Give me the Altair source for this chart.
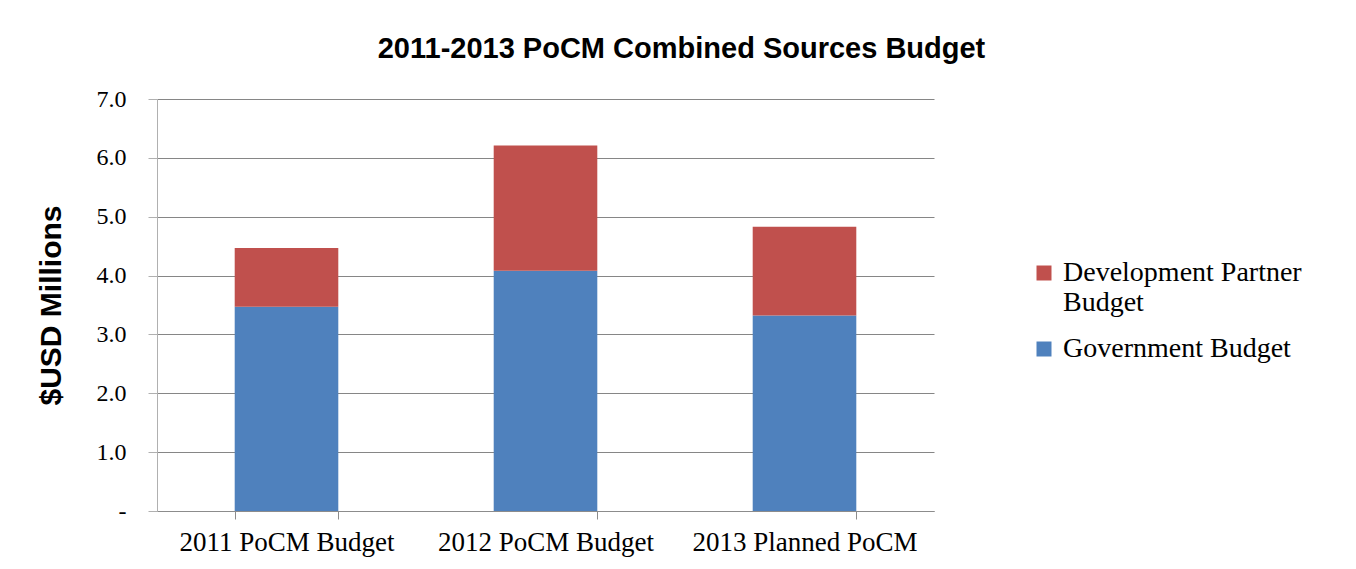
import altair as alt
import pandas as pd

categories = ["2011 PoCM Budget", "2012 PoCM Budget", "2013 Planned PoCM"]
government = [3.47, 4.08, 3.32]
development = [1.00, 2.13, 1.51]
series = ["Development Partner Budget", "Government Budget"]
colors = ["#C0504D", "#4F81BD"]
y_ticks = [0, 1, 2, 3, 4, 5, 6, 7]

rows = []
for c, g, d in zip(categories, government, development):
    rows.append({"category": c, "series": "Government Budget", "value": g, "ord": 0})
    rows.append({"category": c, "series": "Development Partner Budget", "value": d, "ord": 1})
df = pd.DataFrame(rows)

chart = alt.Chart(df).mark_bar().encode(
    x=alt.X("category:N", sort=categories, title=None,
            scale=alt.Scale(paddingInner=0.6, paddingOuter=0.3),
            axis=alt.Axis(labelAngle=0, labelFont="Liberation Serif", labelFontSize=27,
                          labelColor="black", labelLimit=300, tickBand="extent", tickSize=8,
                          tickColor="#8c8c8c", domainColor="#8c8c8c", labelPadding=10,
                          grid=False)),
    y=alt.Y("value:Q", stack="zero", title="$USD Millions",
            scale=alt.Scale(domain=[0, 7], nice=False),
            axis=alt.Axis(values=y_ticks,
                          labelExpr="datum.value == 0 ? '-' : format(datum.value, '.1f')",
                          labelFont="Liberation Serif", labelFontSize=24, labelColor="black",
                          labelPadding=22, tickSize=9, tickColor="#b0b0b0",
                          domainColor="#b0b0b0", gridColor="#868686", gridWidth=1,
                          titleFont="Liberation Sans", titleFontWeight="bold",
                          titleFontSize=30, titleColor="black", titlePadding=30)),
    color=alt.Color("series:N", scale=alt.Scale(domain=series, range=colors),
                    legend=alt.Legend(title=None, orient="none", legendX=873, legendY=160,
                                      symbolType="square", symbolSize=225,
                                      symbolStrokeWidth=0, labelOffset=5,
                                      labelFont="Liberation Serif", labelFontSize=28,
                                      labelColor="black", labelLimit=400, rowPadding=18,
                                      labelExpr="datum.label == 'Development Partner Budget' ? ['Development Partner', 'Budget'] : datum.label")),
    order=alt.Order("ord:Q"),
).properties(
    width=777, height=412,
    title=alt.TitleParams("2011-2013 PoCM  Combined Sources Budget", font="Liberation Sans",
                          fontSize=29, fontWeight="bold", color="black", anchor="middle",
                          frame="group", dx=136, offset=23),
    autosize=alt.AutoSizeParams(type="none"),
    padding={"left": 149, "top": 91, "right": 400, "bottom": 48},
).configure_view(stroke=None)

chart.save("out.html", embed_options={"renderer": "svg", "actions": False})
